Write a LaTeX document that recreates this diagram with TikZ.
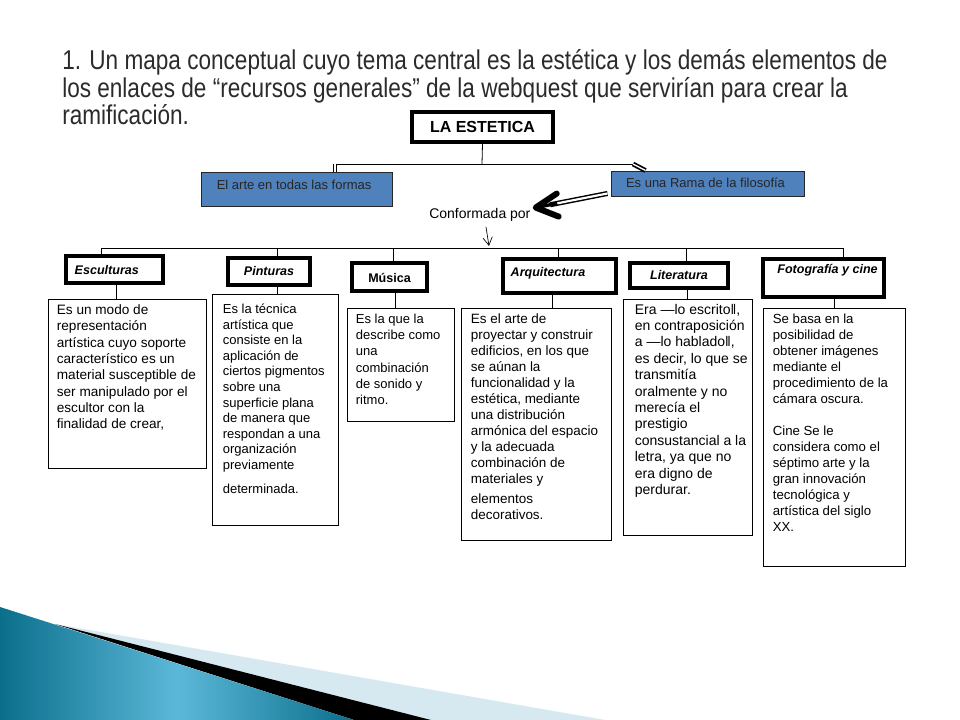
\documentclass[tikz,border=0pt]{standalone}
\usepackage{fontspec}
\setmainfont{Liberation Sans}
\newfontfamily\narrowfont[FakeStretch=0.83]{Liberation Sans}
\usetikzlibrary{calc,fit,arrows.meta}
\definecolor{boxblue}{HTML}{4F81BD}
\definecolor{titlegray}{HTML}{2B2B2B}
\definecolor{tealdark}{HTML}{0B6F8C}
\definecolor{teallight}{HTML}{5CB8D8}
\definecolor{paleblue}{HTML}{D6E9F1}
\begin{document}
\begin{tikzpicture}[x=0.75pt,y=-0.75pt,
  conn/.style={line width=0.6pt},
  catbox/.style={draw, line width=2.3pt, inner sep=0pt},
  cattext/.style={font=\bfseries\itshape\fontsize{9.4pt}{11pt}\selectfont, inner sep=0pt},
  descbox/.style={draw, line width=0.6pt, inner sep=0pt},
  desctext/.style={align=left, anchor=north west, inner sep=0pt, font=\fontsize{9.75pt}{12.2pt}\selectfont},
  bluebox/.style={draw=black!85, fill=boxblue, line width=0.7pt, inner sep=0pt},
  bluetext/.style={font=\fontsize{9.75pt}{11pt}\selectfont, text=black!85, inner sep=0pt},
  titletext/.style={font=\narrowfont\fontsize{20.4pt}{21pt}\selectfont, text=titlegray, inner sep=0pt, anchor=base west},
]
\useasboundingbox (0,0) rectangle (960,720);
\fill[white] (0,0) rectangle (960,720);

% bottom decoration
\fill[paleblue] (55,624) -- (605,720) -- (431,720) -- cycle;
\fill[black] (55,624) -- (431,720) -- (354,720) -- cycle;
\shade[left color=tealdark, right color=tealdark, middle color=teallight] (0,607) -- (354,720) -- (0,720) -- cycle;

% title
\node[titletext] (t1) at (62,70) {1. Un mapa conceptual cuyo tema central es la estética y los demás elementos de};
\node[titletext] (t2) at (62,98) {los enlaces de “recursos generales” de la webquest que servirían para crear la};
\node[titletext] (t3) at (62,125) {ramificación.};

% central node
\node[draw, line width=2.3pt, inner sep=0pt, fit={(412,112) (553,142)}] (est) {};
\node[font=\bfseries\fontsize{12pt}{14pt}\selectfont, inner sep=0pt] (estT) at (est.center) {LA ESTETICA};

% blue boxes
\node[bluebox, fit={(201,172) (392,206)}] (arte) {};
\node[bluetext, anchor=west] (arteT) at ($(arte.north west)+(16,13)$) {El arte en todas las formas};
\node[bluebox, fit={(611,171) (804,196)}] (rama) {};
\node[bluetext] (ramaT) at ($(rama.center)+(-2,-1)$) {Es una Rama de la filosofía};

% connectors top
\coordinate (busT) at (482,164);
\coordinate (bL) at (335,164);
\coordinate (bR) at (633,164);
\draw[conn] (est.south) -- (busT);
\draw[conn] (bL) -- (bR);
\draw[double, double distance=1.1pt, line width=1.1pt] (bL) -- (bL |- arte.north);
\draw[double, double distance=1pt, line width=1.3pt] (bR) -- ($(rama.north west)+(35,0)$);

% Conformada por
\node[font=\fontsize{10.5pt}{12pt}\selectfont, inner sep=0pt, anchor=base west] (conf) at (429,219) {Conformada por};
\coordinate (tip) at ($(conf.north east)+(5,-1)$);
\coordinate (shS) at ($(rama.south west)+(-3,-3)$);
\draw[double, double distance=1.6pt, line width=1.1pt] (shS) -- ($(tip)!0.2!(shS)$);
\draw[line width=4.5pt, line cap=round, line join=round] ($(tip)+(21,-14)$) -- (tip) -- ($(tip)+(23,9)$);
\draw[line width=2.5pt] (tip) -- ($(tip)!0.3!(shS)$);

% small arrow
\coordinate (sa) at (486,227);
\coordinate (busL) at (101,248);
\coordinate (busR) at (843,248);
\coordinate (sb) at ($(sa |- busL)+(3,-2)$);
\draw[line width=0.5pt, -{Straight Barb[length=6pt, width=7pt, line width=0.5pt]}] (sa) -- (sb);
\draw[conn] (busL) -- (busR);

% category boxes
\node[catbox, fit={(66,256) (163,283)}] (cE) {};
\node[cattext, anchor=base west] (tE) at ($(cE.south west)+(10,-10)$) {Esculturas};
\node[catbox, fit={(228,258) (310,285)}] (cP) {};
\node[cattext] (tP) at (cP.center) {Pinturas};
\node[catbox, fit={(352,263) (427,291)}] (cM) {};
\node[cattext, font=\bfseries\fontsize{9.4pt}{11pt}\selectfont] (tM) at ($(cM.center)+(0,1)$) {Música};
\node[catbox, fit={(503,259) (616,293)}] (cA) {};
\node[cattext, anchor=west] (tA) at ($(cA.west)+(9,-3)$) {Arquitectura};
\node[catbox, fit={(630,263) (728,288)}] (cL) {};
\node[cattext] (tL) at (cL.center) {Literatura};
\node[catbox, fit={(763,259) (884,297)}] (cF) {};
\node[cattext] (tF) at ($(cF.north)+(4,13)$) {Fotografía y cine};

% top verticals
\coordinate (xE) at (101,0);
\coordinate (xP) at (277,0);
\coordinate (xM) at (393,0);
\coordinate (xA) at (558,0);
\coordinate (xL) at (686,0);
\coordinate (xF) at (843,0);
\draw[conn] (xE |- busL) -- (xE |- cE.north);
\draw[conn] (xP |- busL) -- (xP |- cP.north);
\draw[conn] (xM |- busL) -- (xM |- cM.north);
\draw[conn] (xA |- busL) -- (xA |- cA.north);
\draw[conn] (xL |- busL) -- (xL |- cL.north);
\draw[conn] (xF |- busL) -- (xF |- cF.north);

% description boxes
\node[descbox, fit={(48,299) (206,468)}] (dE) {};
\node[desctext, font=\fontsize{10.2pt}{12.2pt}\selectfont] (dEt) at ($(dE.north west)+(9,6)$) {Es un modo de\\representación\\artística cuyo soporte\\característico es un\\material  susceptible de\\ser manipulado por el\\escultor con la\\finalidad de crear,};
\node[descbox, fit={(212,294) (338,525)}] (dP) {};
\node[desctext, font=\fontsize{9.75pt}{11.7pt}\selectfont] (dPt) at ($(dP.north west)+(11,10)$) {Es la técnica\\artística que\\consiste en la\\aplicación de\\ciertos pigmentos\\sobre una\\superficie plana\\de manera  que\\respondan a una\\organización\\previamente\\[6pt]determinada.};
\node[descbox, fit={(347,308) (454,421)}] (dM) {};
\node[desctext] (dMt) at ($(dM.north west)+(9,6)$) {Es la que la\\describe como\\una\\combinación\\de sonido y\\ritmo.};
\node[descbox, fit={(461,308) (611,540)}] (dA) {};
\node[desctext, font=\fontsize{10.1pt}{12pt}\selectfont] (dAt) at ($(dA.north west)+(10,6)$) {Es el arte de\\proyectar y construir\\edificios, en los que\\se aúnan la\\funcionalidad y la\\estética, mediante\\una distribución\\armónica del espacio\\y la adecuada\\combinación de\\materiales  y\\[3pt]elementos\\decorativos.};
\node[descbox, fit={(623,299) (752,535)}] (dL) {};
\node[desctext, font=\fontsize{10.5pt}{12.3pt}\selectfont] (dLt) at ($(dL.north west)+(12,5)$) {Era —lo escrito‖,\\en contraposición\\a —lo hablado‖,\\es decir, lo que se\\transmitía\\oralmente  y no\\merecía  el\\prestigio\\consustancial a la\\letra, ya que no\\era  digno de\\perdurar.};
\node[descbox, fit={(763,308) (905,566)}] (dF) {};
\node[desctext, font=\fontsize{9.9pt}{12pt}\selectfont] (dFt) at ($(dF.north west)+(10,6)$) {Se basa en la\\posibilidad de\\obtener imágenes\\mediante el\\procedimiento de la\\cámara  oscura.\\[12pt]Cine Se le\\considera como el\\séptimo arte y la\\gran innovación\\tecnológica y\\artística del siglo\\XX.};

% bottom verticals
\coordinate (yE) at (116,0);
\coordinate (yP) at (277,0);
\coordinate (yM) at (395,0);
\coordinate (yA) at (552,0);
\coordinate (yL) at (687,0);
\coordinate (yF) at (834,0);
\draw[conn] (yE |- cE.south) -- (yE |- dE.north);
\draw[conn] (yP |- cP.south) -- (yP |- dP.north);
\draw[conn] (yM |- cM.south) -- (yM |- dM.north);
\draw[conn] (yA |- cA.south) -- (yA |- dA.north);
\draw[conn] (yL |- cL.south) -- (yL |- dL.north);
\draw[conn] (yF |- cF.south) -- (yF |- dF.north);
\end{tikzpicture}
\end{document}
